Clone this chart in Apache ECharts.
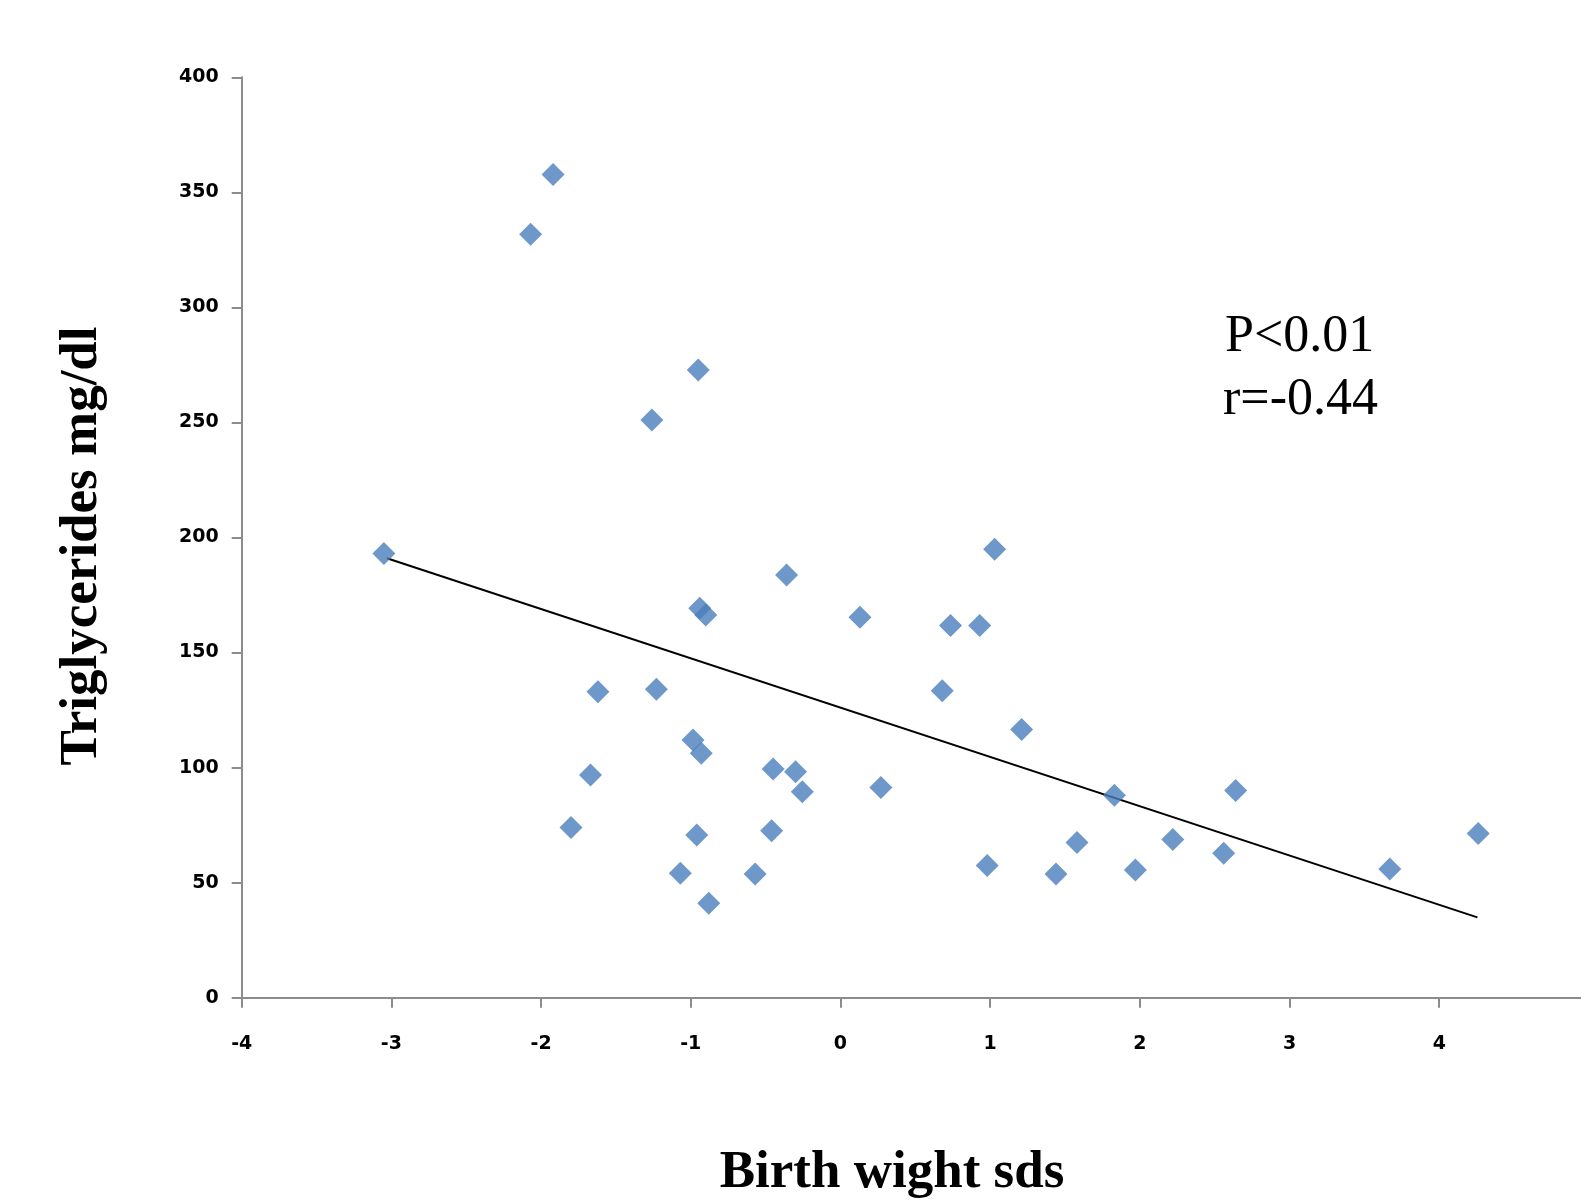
<!DOCTYPE html>
<html>
<head>
<meta charset="utf-8">
<script src="https://cdn.jsdelivr.net/npm/echarts@6/dist/echarts.min.js"></script>
<style>
html,body{margin:0;padding:0;background:#fff;}
#chart{width:1581px;height:1200px;}
</style>
</head>
<body>
<div id="chart"></div>
<script>
// Birth weight SDS (x) and triglycerides mg/dl (y)
const birthWeightSds = [-3.05, -2.07, -1.92, -0.95, -1.26, -0.94, -0.90, -1.62, -1.23, -0.985,
  -0.93, -1.67, -1.80, -0.96, -1.07, -0.88, -0.57, -0.46, -0.45, -0.30,
  -0.255, -0.36, 0.13, 0.27, 0.735, 0.93, 0.68, 1.03, 1.21, 0.98,
  1.44, 1.58, 1.83, 1.97, 2.22, 2.56, 2.64, 3.67, 4.26];
const triglycerides = [193.0, 331.8, 357.8, 272.8, 251.1, 169.2, 166.3, 133.0, 134.0, 112.0,
  106.2, 96.8, 74.0, 70.7, 54.1, 41.0, 53.8, 72.6, 99.4, 98.2,
  89.5, 183.7, 165.3, 91.3, 161.8, 161.8, 133.4, 194.9, 116.6, 57.4,
  53.8, 67.5, 88.0, 55.5, 68.8, 62.8, 90.0, 55.9, 71.4];
// Trend line end points
const trendX = [-3.03, 4.255];
const trendY = [191.0, 34.9];

const xAxisTitle = 'Birth wight sds';
const yAxisTitle = 'Triglycerides mg/dl';
const annotation = ['P<0.01', 'r=-0.44'];

const scatterData = birthWeightSds.map((x, i) => [x, triglycerides[i]]);
const trendData = trendX.map((x, i) => [x, trendY[i]]);

const chart = echarts.init(document.getElementById('chart'));
const axisColor = '#8c8c8c';
const tickFont = { fontFamily: 'DejaVu Sans', fontWeight: 'bold', fontSize: 19, color: '#000' };

chart.setOption({
  animation: false,
  backgroundColor: '#fff',
  grid: { left: 241.7, top: 77.3, bottom: 202.3, right: 0, containLabel: false },
  xAxis: {
    type: 'value', min: -4, max: 4.947, interval: 1,
    axisLine: { show: true, onZero: false, lineStyle: { color: axisColor, width: 2 } },
    axisTick: { show: true, length: 10, lineStyle: { color: axisColor, width: 2 } },
    axisLabel: Object.assign({ margin: 37, showMaxLabel: false }, tickFont),
    splitLine: { show: false }
  },
  yAxis: {
    type: 'value', min: 0, max: 400, interval: 50,
    axisLine: { show: true, onZero: false, lineStyle: { color: axisColor, width: 2 } },
    axisTick: { show: true, length: 10, lineStyle: { color: axisColor, width: 2 } },
    axisLabel: Object.assign({ margin: 23 }, tickFont),
    splitLine: { show: false }
  },
  series: [
    {
      type: 'line', data: trendData, symbol: 'none', silent: true,
      lineStyle: { color: '#000', width: 2 }, z: 2
    },
    {
      type: 'scatter', data: scatterData, symbol: 'diamond', symbolSize: 23,
      itemStyle: { color: '#4a7ebb' }, z: 3
    }
  ],
  graphic: [
    {
      type: 'text', x: 892, y: 1173,
      style: { text: xAxisTitle, font: 'bold 53px "Liberation Serif"', fill: '#000', align: 'center', verticalAlign: 'middle' }
    },
    {
      type: 'text', x: 82, y: 546, rotation: Math.PI / 2,
      style: { text: yAxisTitle, font: 'bold 53px "Liberation Serif"', fill: '#000', align: 'center', verticalAlign: 'middle' }
    },
    {
      type: 'text', x: 1225, y: 337,
      style: { text: annotation[0], font: '52px "Liberation Serif"', fill: '#000', align: 'left', verticalAlign: 'middle' }
    },
    {
      type: 'text', x: 1223, y: 400,
      style: { text: annotation[1], font: '52px "Liberation Serif"', fill: '#000', align: 'left', verticalAlign: 'middle' }
    }
  ]
});
</script>
</body>
</html>
